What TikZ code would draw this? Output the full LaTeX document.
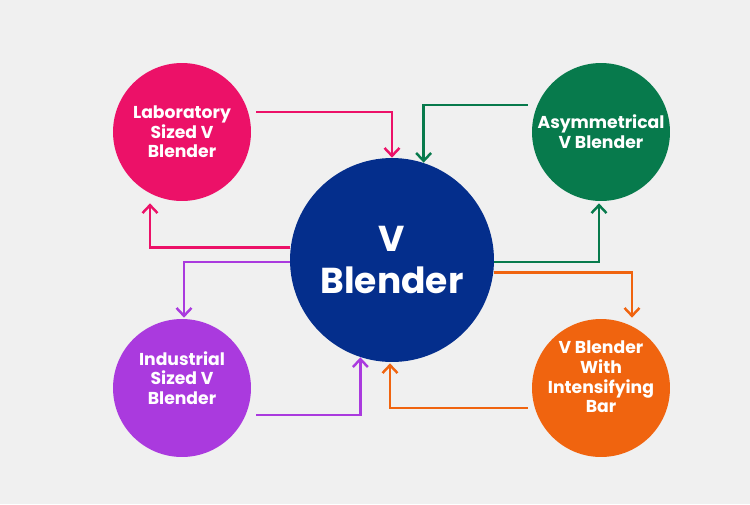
\documentclass[tikz,border=0pt]{standalone}
\usepackage{fontspec}
\setmainfont{Poppins}
\usetikzlibrary{arrows.meta}
\definecolor{bgcol}{RGB}{240,240,240}
\definecolor{pinkc}{RGB}{236,17,104}
\definecolor{greenc}{RGB}{7,122,76}
\definecolor{navyc}{RGB}{4,46,140}
\definecolor{purplec}{RGB}{170,58,222}
\definecolor{orangec}{RGB}{240,100,15}
\begin{document}
\begin{tikzpicture}[x=0.02cm,y=-0.02cm,
  blob/.style={circle,inner sep=0pt,minimum size=2.76cm},
  hub/.style={circle,fill=navyc,inner sep=0pt,minimum size=4.08cm,text=white,
    font=\fontsize{20.5}{24}\selectfont\bfseries,align=center},
  txt/.style={text=white,font=\fontsize{9.8}{11.2}\selectfont\bfseries,align=center},
  link/.style={line width=1.4pt,-{Straight Barb[length=4.5pt,width=8.5pt,line width=1.4pt]}}]
\fill[bgcol] (0,0) rectangle (750,504);
\useasboundingbox (0,0) rectangle (750,504);

\node[hub] (main) at (392,260) {V\\Blender};
\node[blob,fill=pinkc] (lab) at (182,132) {};
\node[blob,fill=greenc] (asym) at (601,132) {};
\node[blob,fill=purplec] (ind) at (182,388) {};
\node[blob,fill=orangec] (bar) at (601,388) {};

\node[txt] (lab-t) at (lab.center) {Laboratory\\Sized V\\Blender};
\node[txt] (asym-t) at (asym.center) {Asymmetrical\\V Blender};
\node[txt] (ind-t) at ([shift={(0,-10)}]ind.center) {Industrial\\Sized V\\Blender};
\node[txt] (bar-t) at ([shift={(0,-11)}]bar.center) {V Blender\\With\\Intensifying\\Bar};

\draw[link,pinkc] ([shift={(5,-20)}]lab.east) -| (main.north);
\draw[link,pinkc] (main.173) -| ([shift={(-32,2)}]lab.south);
\draw[link,greenc] ([shift={(-4,-27)}]asym.west) -| (main.72);
\draw[link,greenc] (main.359) -| ([shift={(-2,2)}]asym.south);
\draw[link,purplec] (main.181) -| ([shift={(2,-1)}]ind.north);
\draw[link,purplec] ([shift={(5,27)}]ind.east) -| (main.252);
\draw[link,orangec] (main.353) -| ([shift={(31,-1)}]bar.north);
\draw[link,orangec] ([shift={(-4,20)}]bar.west) -| ([shift={(-2,1)}]main.south);
\end{tikzpicture}
\end{document}
